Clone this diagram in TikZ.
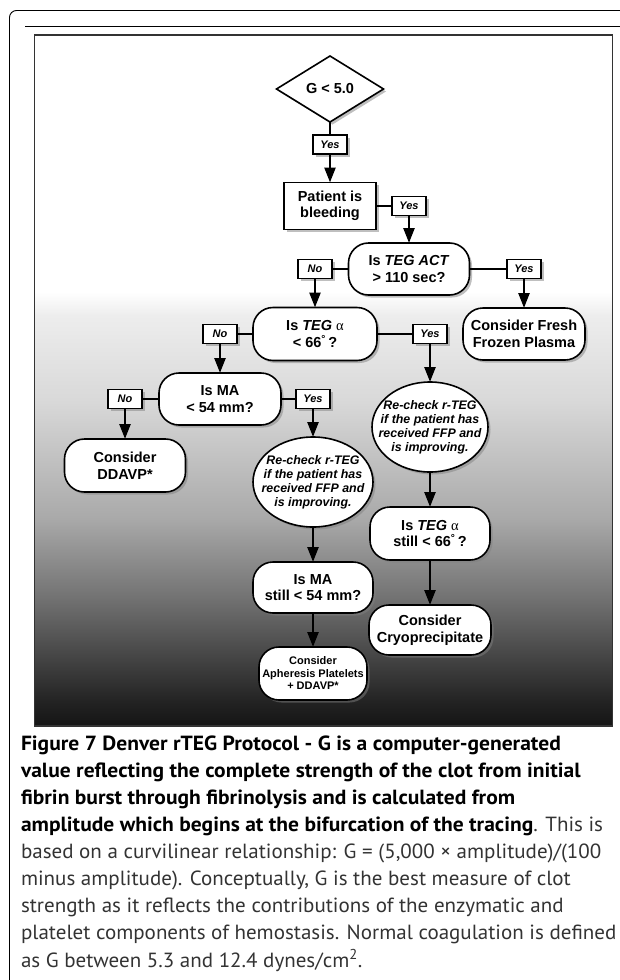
\documentclass[tikz,border=0pt]{standalone}
\usepackage{fontspec}
\setmainfont{Liberation Sans}
\newfontfamily\capfont[FakeStretch=1.025, BoldFeatures={FakeStretch=1.05}]{PT Sans}
\newfontfamily\grk{Liberation Serif}
\usetikzlibrary{shapes.geometric,shadows,arrows.meta}
\tikzset{
  every node/.style={inner sep=0pt, outer sep=0pt},
  sh/.style={drop shadow={shadow xshift=2.5pt,shadow yshift=-2.5pt,opacity=0.5}},
  pill/.style={draw=black, line width=1.6pt, fill=white, rounded corners=20pt, sh,
    align=center, font=\bfseries\fontsize{14.5}{16.5}\selectfont},
  boxnode/.style={pill, rounded corners=0pt},
  decide/.style={diamond, aspect=1.6, draw=black, line width=1.6pt, fill=white, sh,
    font=\bfseries\fontsize{14.5}{16.5}\selectfont},
  oval/.style={ellipse, draw=black, line width=1.6pt, fill=white, sh},
  ovaltext/.style={align=center, font=\bfseries\itshape\fontsize{12.4}{14}\selectfont},
  lab/.style={draw=black, line width=1.3pt, fill=white, sh, minimum width=34pt,
    minimum height=19pt, font=\bfseries\itshape\fontsize{11}{12}\selectfont},
  conn/.style={line width=2.5pt},
  arr/.style={line width=2.5pt, -{Triangle[width=11pt,length=15pt]}},
  capline/.style={anchor=base west, text=black!80, font=\capfont\fontsize{20.5}{24}\selectfont},
}
\newcommand{\alphasym}{{\grk\mdseries\upshape α}}
\newcommand{\capbold}[1]{{\color{black}\bfseries #1}}
\begin{document}
\begin{tikzpicture}[x=1pt,y=-1pt]
\useasboundingbox (0,0) rectangle (620,980);
\fill[white] (0,0) rectangle (620,980);
% page frame
\draw[line width=0.9pt, rounded corners=7pt] (9.5,982) -- (9.5,10.5) -- (622,10.5);
\draw[line width=1pt] (25,26) -- (622,26);
% figure background
\fill[white] (34.5,35) rectangle (612.5,726);
\shade[top color=white, bottom color=black!7] (34.5,292) rectangle (612.5,315.5);
\shade[top color=black!7, bottom color=black!15] (34.5,315) rectangle (612.5,400.5);
\shade[top color=black!15, bottom color=black!34] (34.5,400) rectangle (612.5,520.5);
\shade[top color=black!34, bottom color=black!56] (34.5,520) rectangle (612.5,600.5);
\shade[top color=black!56, bottom color=black!86] (34.5,600) rectangle (612.5,700.5);
\shade[top color=black!86, bottom color=black!92] (34.5,700) rectangle (612.5,726);
\draw[black!80, line width=1.8pt] (34.5,35) rectangle (612.5,726);

% nodes
\node[decide, minimum width=107pt, minimum height=66pt] (g) at (330,89) {G < 5.0};
\node[lab] (y1) at (330,144.5) {Yes};
\node[boxnode, minimum width=92pt, minimum height=47pt] (pat) at (330,206) {Patient is\\bleeding};
\node[lab] (y2) at (409,206) {Yes};
\node[pill, minimum width=121pt, minimum height=52pt] (act) at (409,269) {Is \textit{TEG ACT}\\> 110 sec?};
\node[lab] (no1) at (315,269) {No};
\node[lab] (y3) at (524,269) {Yes};
\node[pill, minimum width=122pt, minimum height=52pt] (ffp) at (524,334) {Consider Fresh\\Frozen Plasma};
\node[pill, minimum width=124pt, minimum height=53pt] (alpha) at (315,334) {Is \textit{TEG} \alphasym\\< 66\textsuperscript{°}\,?};
\node[lab] (no2) at (220,334) {No};
\node[lab] (y4) at (430,334) {Yes};
\node[pill, minimum width=122pt, minimum height=52pt] (ma) at (220,399) {Is MA\\< 54 mm?};
\node[lab] (no3) at (125,399) {No};
\node[lab] (y5) at (313,399) {Yes};
\node[pill, minimum width=121pt, minimum height=53pt] (dd) at (125,465.5) {Consider\\DDAVP*};
\node[oval, minimum width=116pt, minimum height=90pt] (rc1) at (430,427) {};
\node[ovaltext] (rc1t) at (rc1.center) {Re-check r-TEG\\if the patient has\\received FFP and\\is improving.};
\node[oval, minimum width=120pt, minimum height=90pt] (rc2) at (313,482) {};
\node[ovaltext] (rc2t) at (rc2.center) {Re-check r-TEG\\if the patient has\\received FFP and\\is improving.};
\node[pill, minimum width=120pt, minimum height=53pt] (alst) at (430,533.5) {Is \textit{TEG} \alphasym\\still < 66\textsuperscript{°}\,?};
\node[pill, minimum width=120pt, minimum height=51pt] (mas) at (313,587.5) {Is MA\\still < 54 mm?};
\node[pill, minimum width=122pt, minimum height=50pt] (cryo) at (430,630) {Consider\\Cryoprecipitate};
\node[pill, minimum width=108pt, minimum height=53pt, font=\bfseries\fontsize{11}{12.5}\selectfont] (aph) at (313,673.5) {Consider\\Apheresis Platelets\\+ DDAVP*};

% connectors
\draw[conn] (g) -- (y1);
\draw[arr] (y1) -- (pat);
\draw[conn] (pat) -- (y2);
\draw[arr] (y2) -- (act);
\draw[conn] (act) -- (no1);
\draw[arr] (no1) -- (alpha);
\draw[conn] (act) -- (y3);
\draw[arr] (y3) -- (ffp);
\draw[conn] (alpha) -- (no2);
\draw[arr] (no2) -- (ma);
\draw[conn] (alpha) -- (y4);
\draw[arr] (y4) -- (rc1);
\draw[conn] (ma) -- (no3);
\draw[arr] (no3) -- (dd);
\draw[conn] (ma) -- (y5);
\draw[arr] (y5) -- (rc2);
\draw[arr] (rc2) -- (mas);
\draw[arr] (mas) -- (aph);
\draw[arr] (rc1) -- (alst);
\draw[arr] (alst) -- (cryo);

% caption
\node[capline] (c1) at (21,750) {\capbold{Figure 7 Denver rTEG Protocol - G is a computer-generated}};
\node[capline] (c2) at (21,777.1) {\capbold{value reflecting the complete strength of the clot from initial}};
\node[capline] (c3) at (21,804.2) {\capbold{fibrin burst through fibrinolysis and is calculated from}};
\node[capline] (c4) at (21,831.4) {\capbold{amplitude which begins at the bifurcation of the tracing}. This is};
\node[capline] (c5) at (21,858.5) {based on a curvilinear relationship: G = (5,000 × amplitude)/(100};
\node[capline] (c6) at (21,885.6) {minus amplitude). Conceptually, G is the best measure of clot};
\node[capline] (c7) at (21,912.8) {strength as it reflects the contributions of the enzymatic and};
\node[capline] (c8) at (21,939.9) {platelet components of hemostasis. Normal coagulation is defined};
\node[capline] (c9) at (21,967) {as G between 5.3 and 12.4 dynes/cm\textsuperscript{2}.};
\end{tikzpicture}
\end{document}
